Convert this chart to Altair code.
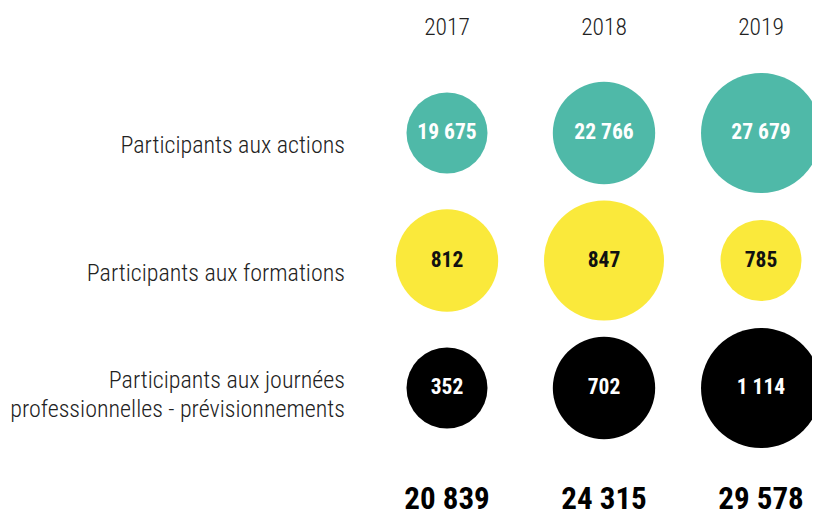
import altair as alt
import pandas as pd

years = ["2017", "2018", "2019"]
categories = [
    "Participants aux actions",
    "Participants aux formations",
    "Participants aux journées\nprofessionnelles - prévisionnements",
]
actions = [19675, 22766, 27679]
formations = [812, 847, 785]
journees = [352, 702, 1114]
colors = ["#4FB9A8", "#FAE93B", "#000000"]

rows = []
for cat, vals in zip(categories, [actions, formations, journees]):
    for y, v in zip(years, vals):
        rows.append({"year": y, "cat": cat, "value": v})
df = pd.DataFrame(rows)

BOLD_FONT = "Roboto Condensed, DejaVu Sans Condensed, sans-serif"
LIGHT_FONT = "Roboto Condensed, Roboto, sans-serif"

X = alt.X("year:N", sort=years, axis=None,
          scale=alt.Scale(type="point", range=[439, 753], padding=0))
Y = alt.Y("cat:N", sort=categories, axis=None,
          scale=alt.Scale(type="point", range=[125, 380], padding=0))

base = alt.Chart(df).transform_calculate(
    label="replace(format(datum.value, ','), ',', ' ')"
)

circles = base.transform_window(
    rk="rank()", groupby=["cat"], sort=[alt.SortField("value", order="ascending")]
).mark_circle(opacity=1).encode(
    x=X, y=Y,
    size=alt.Size("rk:Q", legend=None,
                  scale=alt.Scale(domain=[1, 3], range=[6561, 14400], zero=False)),
    color=alt.Color("cat:N", legend=None,
                    scale=alt.Scale(domain=categories, range=colors)),
)

values = base.mark_text(font=BOLD_FONT, fontWeight="bold",
                        fontSize=21.5, baseline="middle").encode(
    x=X, y=Y, text="label:N",
    color=alt.condition(alt.datum.cat == categories[1],
                        alt.value("#111111"), alt.value("white")),
)

lab_df = pd.DataFrame({"cat": categories})
single_labels = alt.Chart(lab_df).transform_filter(
    "indexof(datum.cat, '\\n') < 0"
).mark_text(
    font=LIGHT_FONT, fontWeight=300, fontSize=24, align="right",
    baseline="middle", dy=13, color="#222222"
).encode(x=alt.value(337), y=Y, text="cat:N")

multi_labels = alt.Chart(lab_df).transform_filter(
    "indexof(datum.cat, '\\n') >= 0"
).mark_text(
    font=LIGHT_FONT, fontWeight=300, fontSize=24, align="right",
    baseline="middle", dy=-7, lineBreak="\n", lineHeight=29, color="#222222"
).encode(x=alt.value(337), y=Y, text="cat:N")

year_labels = alt.Chart(pd.DataFrame({"year": years})).mark_text(
    font=LIGHT_FONT, fontWeight=300, fontSize=23.5, baseline="middle", color="#222222"
).encode(x=X, y=alt.value(20), text="year:N")

totals = base.transform_aggregate(
    total="sum(value)", groupby=["year"]
).transform_calculate(
    tlabel="replace(format(datum.total, ','), ',', ' ')"
).mark_text(font=BOLD_FONT, fontWeight="bold", fontSize=31,
            baseline="middle", color="#000000").encode(
    x=X, y=alt.value(492), text="tlabel:N"
)

chart = alt.layer(circles, values, single_labels, multi_labels, year_labels, totals).properties(
    width=804, height=507, padding=0,
    autosize=alt.AutoSizeParams(type="none"),
).configure_view(stroke=None)

chart.save("out.html", embed_options={"renderer": "svg", "actions": False})
